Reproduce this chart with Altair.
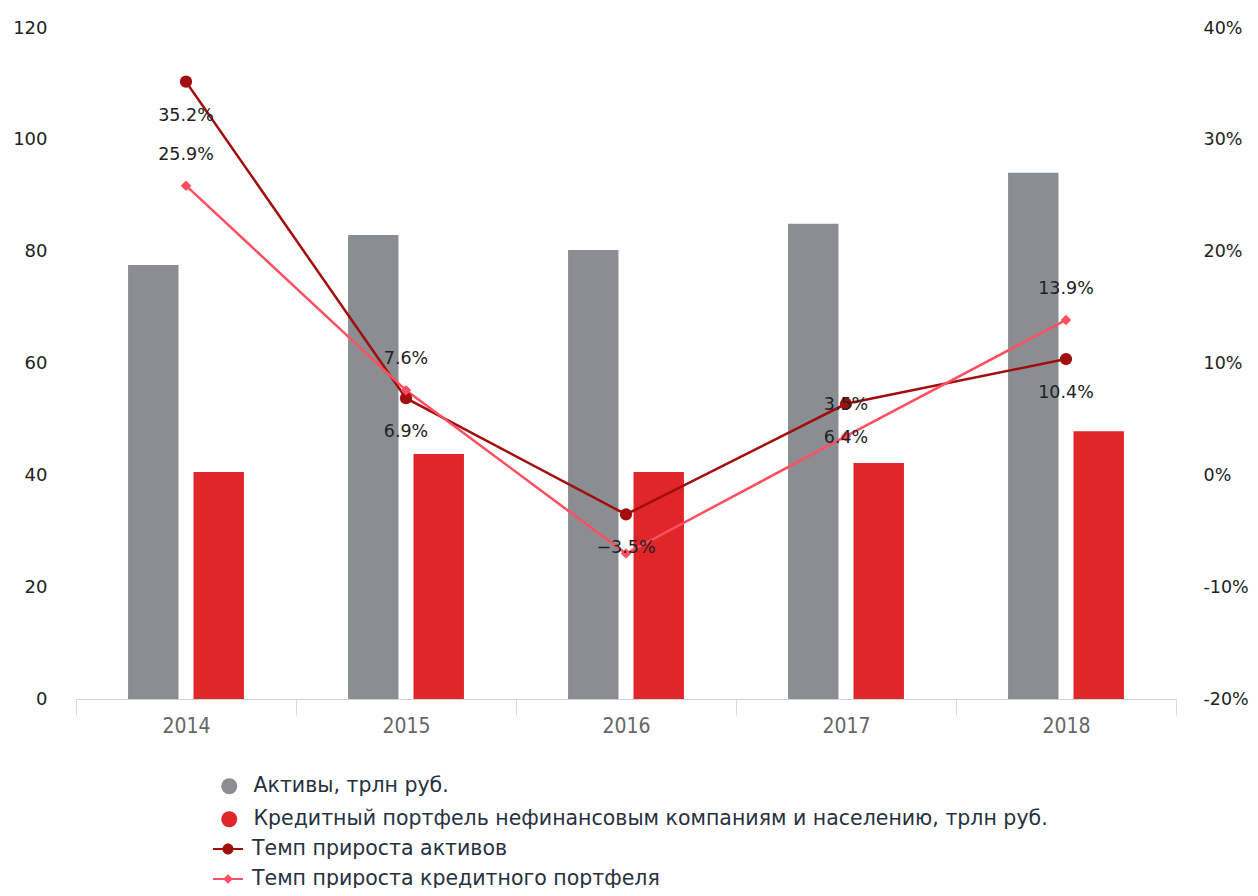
import altair as alt
import pandas as pd

years = ["2014", "2015", "2016", "2017", "2018"]
assets = [77.6, 83.0, 80.3, 85.0, 94.1]
loans = [40.6, 43.8, 40.6, 42.2, 47.9]
assets_growth = [35.2, 6.9, -3.5, 6.4, 10.4]
loans_growth = [25.9, 7.6, -7.0, 3.5, 13.9]
loans_label_shown = [True, True, False, True, True]

bar_names = ["Активы, трлн руб.",
             "Кредитный портфель нефинансовым компаниям и населению, трлн руб."]
line_names = ["Темп прироста активов", "Темп прироста кредитного портфеля"]

GRAY = "#8a8d92"
RED = "#e02629"
DARK = "#a30d0d"
PINK = "#ff4f60"

bar_df = pd.DataFrame({
    "year": years * 2,
    "series": [bar_names[0]] * 5 + [bar_names[1]] * 5,
    "value": assets + loans,
})
line_df = pd.DataFrame({
    "year": years * 2,
    "series": [line_names[0]] * 5 + [line_names[1]] * 5,
    "pct": assets_growth + loans_growth,
    "shown": [True] * 5 + loans_label_shown,
})

FONT = "DejaVu Sans"
x_scale = alt.Scale(paddingInner=0, paddingOuter=0)
x_enc = alt.X("year:N", sort=years, scale=x_scale,
              axis=alt.Axis(title=None, labelAngle=0, tickBand="extent", tickSize=16,
                            tickColor="#d6dbe6", domainColor="#ccd2dc", labelFontSize=21,
                            labelColor="#666666", labelPadding=0,
                            labelFont="DejaVu Sans Condensed", labelFontWeight="normal"))

bars = alt.Chart(bar_df).mark_bar().encode(
    x=x_enc,
    xOffset=alt.XOffset("series:N", sort=bar_names,
                        scale=alt.Scale(paddingInner=0.23, paddingOuter=0.795)),
    y=alt.Y("value:Q", scale=alt.Scale(domain=[0, 120]),
            axis=alt.Axis(title=None, values=[0, 20, 40, 60, 80, 100, 120], grid=False,
                          domain=False, ticks=False, labelPadding=29, labelFontSize=18,
                          labelColor="#222222", labelFont=FONT)),
    color=alt.Color("series:N", scale=alt.Scale(domain=bar_names, range=[GRAY, RED]),
                    legend=alt.Legend(title=None, orient="none", legendX=143, legendY=748,
                                      symbolType="circle", symbolSize=256, labelOffset=14,
                                      rowPadding=12, padding=0, symbolStrokeWidth=0,
                                      labelLimit=1000)),
)

y_pct = alt.Y("pct:Q", scale=alt.Scale(domain=[-20, 40]),
              axis=alt.Axis(orient="right", title=None, values=[-20, -10, 0, 10, 20, 30, 40],
                            labelExpr="replace(format(datum.value / 100, '.0%'), '−', '-')",
                            grid=False, domain=False, ticks=False, labelPadding=27,
                            labelFontSize=17.5, labelColor="#222222", labelFont=FONT))
line_color = alt.Color("series:N", scale=alt.Scale(domain=line_names, range=[DARK, PINK]),
                       legend=None)

lines = alt.Chart(line_df).mark_line(strokeWidth=2.5).encode(
    x=x_enc, y=y_pct, color=line_color)

points = alt.Chart(line_df).mark_point(filled=True, opacity=1).encode(
    x=x_enc, y=y_pct, color=line_color,
    shape=alt.Shape("series:N", scale=alt.Scale(domain=line_names, range=["circle", "diamond"]),
                    legend=None),
    size=alt.Size("series:N", scale=alt.Scale(domain=line_names, range=[150, 110]), legend=None),
)

label_base = alt.Chart(line_df).transform_filter("datum.shown").transform_calculate(
    lbl="format(datum.pct / 100, '.1%')")
text_dark = label_base.transform_filter(alt.datum.series == line_names[0]).mark_text(
    dy=34, fontSize=17.5, font=FONT, color="#222222").encode(x=x_enc, y=y_pct, text="lbl:N")
text_pink = label_base.transform_filter(alt.datum.series == line_names[1]).mark_text(
    dy=-31, fontSize=17.5, font=FONT, color="#222222").encode(x=x_enc, y=y_pct, text="lbl:N")

circle_path = ("M-1,-0.07L1,-0.07L1,0.07L-1,0.07Z"
               "M0.37,0A0.37,0.37,0,1,1,-0.37,0A0.37,0.37,0,1,1,0.37,0Z")
diamond_path = ("M-1,-0.07L1,-0.07L1,0.07L-1,0.07Z"
                "M0,-0.32L0.32,0L0,0.32L-0.32,0Z")
line_legend = alt.Legend(title=None, orient="none", legendX=137, legendY=806,
                         symbolSize=900, labelOffset=9, rowPadding=4, padding=0,
                         symbolStrokeWidth=0, labelLimit=1000)
legend_layer = alt.Chart(line_df).transform_filter("false").mark_point(
    filled=True, opacity=1).encode(
    color=alt.Color("series:N", scale=alt.Scale(domain=line_names, range=[DARK, PINK]),
                    legend=line_legend),
    shape=alt.Shape("series:N", scale=alt.Scale(domain=line_names,
                                                range=[circle_path, diamond_path]),
                    legend=line_legend),
)

inner = alt.layer(lines, points, text_dark, text_pink, legend_layer).resolve_scale(
    color="independent", shape="independent", size="independent")

chart = alt.layer(bars, inner).resolve_scale(y="independent", color="independent").properties(
    width=1100, height=671,
    autosize=alt.AutoSizeParams(type="none"),
    padding={"left": 68, "top": 20, "right": 74, "bottom": 189},
    background="white",
).configure_view(stroke=None).configure_legend(
    labelFont="DejaVu Sans", labelFontSize=20.5, labelColor="#27313f",
)

chart.save("out.html", embed_options={"renderer": "svg", "actions": False})
